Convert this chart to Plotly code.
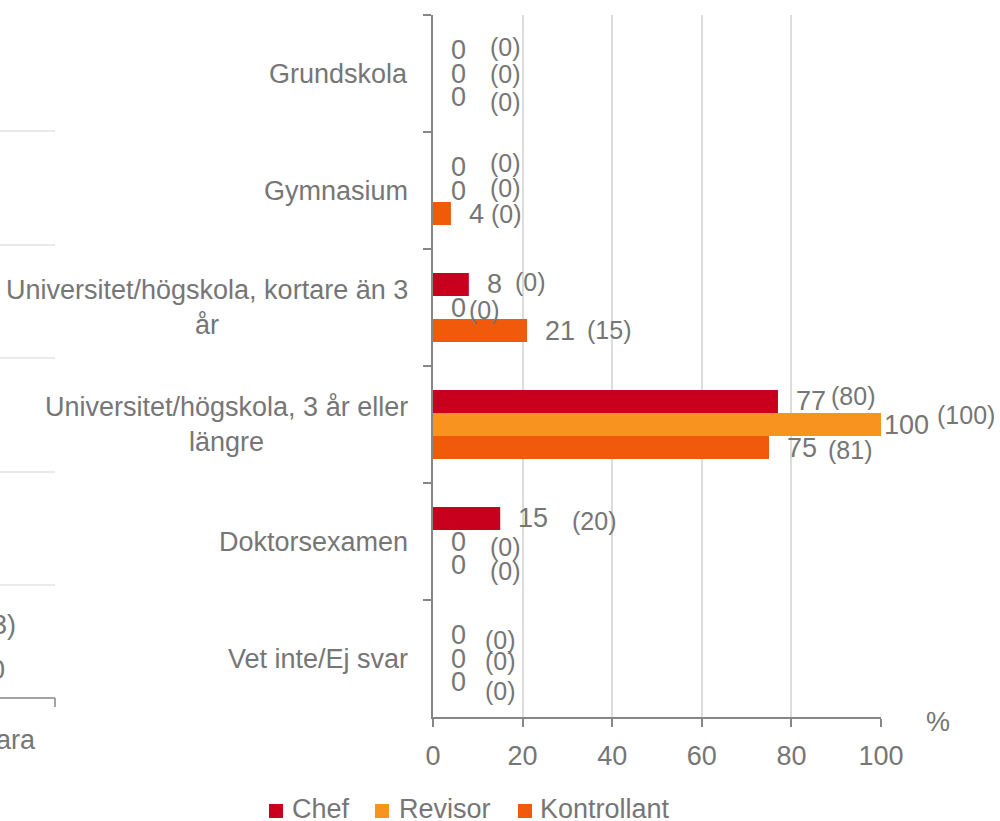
import plotly.graph_objects as go

# Education level by role, in percent; values in brackets are the previous survey
categories = [
    "Grundskola",
    "Gymnasium",
    "Universitet/högskola, kortare än 3 år",
    "Universitet/högskola, 3 år eller längre",
    "Doktorsexamen",
    "Vet inte/Ej svar",
]
category_labels = [
    "Grundskola",
    "Gymnasium",
    "Universitet/högskola, kortare än 3<br>år",
    "Universitet/högskola, 3 år eller<br>längre",
    "Doktorsexamen",
    "Vet inte/Ej svar",
]
series_names = ["Chef", "Revisor", "Kontrollant"]
chef = [0, 0, 8, 77, 15, 0]
revisor = [0, 0, 0, 100, 0, 0]
kontrollant = [0, 4, 21, 75, 0, 0]
chef_prev = [0, 0, 0, 80, 20, 0]
revisor_prev = [0, 0, 0, 100, 0, 0]
kontrollant_prev = [0, 0, 15, 81, 0, 0]
x_ticks = [0, 20, 40, 60, 80, 100]

values = [chef, revisor, kontrollant]
previous = [chef_prev, revisor_prev, kontrollant_prev]
colors = ["#C8001E", "#F7931E", "#F05A0A"]

TEXT = "#767676"
FONT = "Liberation Sans, Arial, sans-serif"
FS = 27
FS_PREV = 25

# Page geometry
W, H = 1000, 821
ML, MR, MT, MB = 433, 119, 15, 104
PW, PH = W - ML - MR, H - MT - MB
BARGAP = 0.41
bar_w = (1 - BARGAP) / 3  # thickness of one bar in category units

# Per-label nudges (pixels) for the bracketed labels: gap after value label, vertical shift
prev_gap = [
    [24, 24, 13, 5, 24, 19],
    [24, 24, 3, 8, 24, 19],
    [24, 7, 12, 11, 24, 19],
]
prev_dy = [
    [-3, -4, -2, -5, 3, 5],
    [0, -3, 2, -10, 5, 2],
    [5, 0, -1, 2, 6, 9],
]
value_pad = [
    [16, 16, 16, 16, 16, 16],
    [16, 16, 16, 1, 16, 16],
    [16, 16, 16, 16, 16, 16],
]

fig = go.Figure()
for name, vals, col in zip(series_names, values, colors):
    fig.add_trace(go.Bar(
        name=name, y=categories, x=vals, orientation="h",
        marker=dict(color=col, line=dict(width=0)),
        hoverinfo="skip", showlegend=False,
    ))

digit_w = 0.556 * FS
annotations = []
for s in range(3):
    offset = (s - 1) * bar_w
    for i, cat in enumerate(categories):
        v = values[s][i]
        p = previous[s][i]
        yc = i + offset
        annotations.append(dict(
            x=v, y=yc, xref="x", yref="y", text=str(v), showarrow=False,
            xanchor="left", yanchor="middle", xshift=value_pad[s][i],
            font=dict(size=FS, color=TEXT, family=FONT),
        ))
        shift = value_pad[s][i] + len(str(v)) * digit_w + prev_gap[s][i]
        annotations.append(dict(
            x=v, y=yc, xref="x", yref="y", text=f"({p})", showarrow=False,
            xanchor="left", yanchor="middle", xshift=shift, yshift=-prev_dy[s][i],
            font=dict(size=FS_PREV, color=TEXT, family=FONT),
        ))

# Category labels, centred multi-line text to the left of the axis
for i, lab in enumerate(category_labels):
    annotations.append(dict(
        x=-23 / PW, y=i, xref="paper", yref="y", text=lab, showarrow=False,
        xanchor="right", yanchor="middle", align="center",
        font=dict(size=FS, color=TEXT, family=FONT),
    ))


def px_x(xp):
    return (xp - ML) / PW


def px_y(yp):
    return (MT + PH - yp) / PH


annotations.append(dict(
    x=px_x(938), y=px_y(722), xref="paper", yref="paper",
    text="%", showarrow=False, xanchor="center", yanchor="middle",
    font=dict(size=FS, color=TEXT, family=FONT),
))

shapes = []

# Legend: coloured squares followed by series names
legend_sq_x = [269, 375, 518]
legend_txt_x = [290, 397, 538]
for name, col, sx, tx in zip(series_names, colors, legend_sq_x, legend_txt_x):
    shapes.append(dict(type="rect", xref="paper", yref="paper",
                       x0=px_x(sx), x1=px_x(sx + 14), y0=px_y(818), y1=px_y(804),
                       fillcolor=col, line=dict(width=0)))
    annotations.append(dict(
        x=px_x(tx), y=px_y(809), xref="paper", yref="paper", text=name,
        showarrow=False, xanchor="left", yanchor="middle",
        font=dict(size=FS, color=TEXT, family=FONT),
    ))

# Edge of the neighbouring panel on the left
for gy in [131, 245, 358, 472, 585]:
    shapes.append(dict(type="line", xref="paper", yref="paper",
                       x0=px_x(-5), x1=px_x(55), y0=px_y(gy), y1=px_y(gy),
                       line=dict(color="#E3E3E3", width=1.5)))
shapes.append(dict(type="line", xref="paper", yref="paper",
                   x0=px_x(-5), x1=px_x(55), y0=px_y(698), y1=px_y(698),
                   line=dict(color="#868686", width=1.5)))
shapes.append(dict(type="line", xref="paper", yref="paper",
                   x0=px_x(55), x1=px_x(55), y0=px_y(698), y1=px_y(707),
                   line=dict(color="#868686", width=1.5)))
for txt, xr, yc in [("3)", 18, 625), ("0", 7, 670), ("ara", 38, 740)]:
    annotations.append(dict(
        x=px_x(xr), y=px_y(yc), xref="paper", yref="paper", text=txt,
        showarrow=False, xanchor="right", yanchor="middle",
        font=dict(size=FS, color=TEXT, family=FONT),
    ))

fig.update_layout(
    width=W, height=H,
    margin=dict(l=ML, r=MR, t=MT, b=MB, autoexpand=False),
    paper_bgcolor="white", plot_bgcolor="white",
    barmode="group", bargap=BARGAP, bargroupgap=0,
    font=dict(family=FONT, size=FS, color=TEXT),
    showlegend=False,
    xaxis=dict(
        range=[0, 100], tickvals=x_ticks, showgrid=True, gridcolor="#DCDCDC",
        gridwidth=1.5, zeroline=False, showline=True, linecolor="#868686",
        linewidth=1.5, ticks="outside", ticklen=8, tickcolor="#868686",
        tickwidth=1.5, tickfont=dict(size=FS, color=TEXT, family=FONT),
        ticklabelstandoff=6, fixedrange=True,
    ),
    yaxis=dict(
        type="category", categoryorder="array", categoryarray=categories,
        autorange="reversed", showgrid=False, zeroline=False, showline=True,
        linecolor="#868686", linewidth=1.5, ticks="outside", ticklen=8,
        tickcolor="#868686", tickwidth=1.5, tickson="boundaries",
        showticklabels=False, fixedrange=True,
    ),
    annotations=annotations,
    shapes=shapes,
)

fig.write_html("out.html")
